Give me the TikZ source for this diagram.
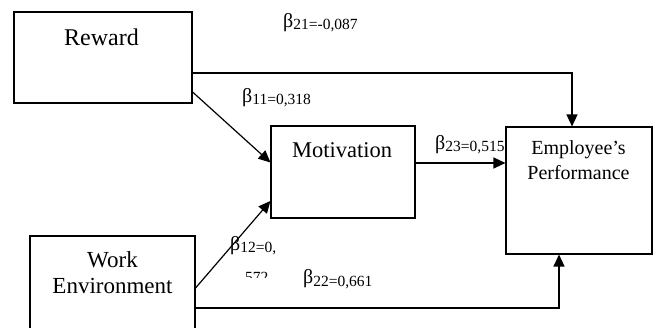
\documentclass[tikz,border=0pt]{standalone}
\usepackage{fontspec}
\setmainfont{Liberation Serif}
\usetikzlibrary{arrows.meta}
\newcommand\coefl[1]{{\fontsize{20}{20}\selectfont β}\raisebox{-2pt}{\fontsize{15.5}{16}\selectfont #1}}
\tikzset{
  box/.style={draw, line width=1.1pt, fill=white, inner sep=0pt},
  txt/.style={inner sep=0pt, anchor=base, align=center},
  coef/.style={inner sep=0pt, anchor=base west},
  conn/.style={line width=1.2pt, -{Triangle[length=12pt,width=11pt]}},
}
\begin{document}
\begin{tikzpicture}[x=1pt,y=-1pt]
\useasboundingbox (0,0) rectangle (658,328);
\clip (0,0) rectangle (658,328);
% coefficient labels (drawn first so boxes cover overflow)
\node[coef] (c21) at (283,28) {\coefl{21=-0,087}};
\node[coef] (c11) at (242,103) {\coefl{11=0,318}};
\node[coef] (c23) at (435,149.5) {\coefl{23=0,515}};
\node[coef] (c12) at (230,251) {\coefl{12=0,}};
\node[coef] (c22) at (303,284) {\coefl{22=0,661}};
\begin{scope}
\clip (240,268) rectangle (275,277.5);
\node[coef] (c12b) at (245,282.5) {\fontsize{15.5}{16}\selectfont 572};
\end{scope}
% boxes
\node[box, minimum width=178pt, minimum height=91pt] (rw) at (103,57.5) {};
\node[box, minimum width=144pt, minimum height=92pt] (mo) at (343,172) {};
\node[box, minimum width=146pt, minimum height=127pt] (ep) at (579,190.5) {};
\node[box, minimum width=165pt, minimum height=110pt] (we) at (112.5,291) {};
% box texts
\node[txt, font=\fontsize{24}{25}\selectfont] (trw) at (101.5,45.7) {Reward};
\node[txt, font=\fontsize{22.5}{24}\selectfont] (tmo) at (342,157.3) {Motivation};
\node[txt, font=\fontsize{20}{25}\selectfont] (tep) at (578.5,180) {Employee’s\\Performance};
\node[txt, font=\fontsize{23}{26}\selectfont] (twe) at (112.5,293.3) {Work\\Environment};
% connectors
\coordinate (rwS) at (rw.east |- 0,92);
\coordinate (weS) at (we.east |- 0,288);
\draw[conn] (rwS) -- (mo.west |- 0,162.5);
\draw[conn] (weS) -- (mo.west |- 0,201);
\draw[conn] (mo.east |- 0,163) -- (ep.west |- 0,163);
\draw[conn] (rw.east |- 0,73) -| (ep.north -| 572,0);
\draw[conn] (we.east |- 0,308) -| (ep.south -| 559,0);
\end{tikzpicture}
\end{document}
